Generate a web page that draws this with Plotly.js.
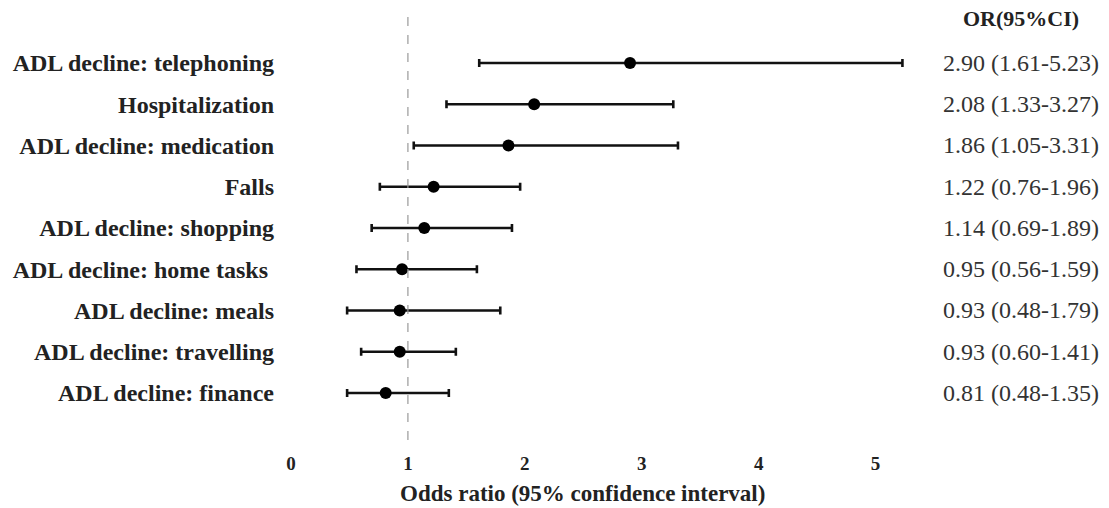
<!DOCTYPE html>
<html><head><meta charset="utf-8">
<script src="https://cdn.plot.ly/plotly-3.0.1.min.js"></script>
<style>body{margin:0;background:#fff}#c{width:1109px;height:508px}</style>
</head><body><div id="c"></div>
<script>
const categories = ["ADL decline: telephoning","Hospitalization","ADL decline: medication","Falls","ADL decline: shopping","ADL decline: home tasks ","ADL decline: meals","ADL decline: travelling","ADL decline: finance"];
const oddsRatio = [2.90,2.08,1.86,1.22,1.14,0.95,0.93,0.93,0.81];
const ciLow = [1.61,1.33,1.05,0.76,0.69,0.56,0.48,0.60,0.48];
const ciHigh = [5.23,3.27,3.31,1.96,1.89,1.59,1.79,1.41,1.35];
const tickVals = [0,1,2,3,4,5];
const headerText = "OR(95%CI)";
const xTitle = "Odds ratio (95% confidence interval)";

const labels = oddsRatio.map((v,i)=> v.toFixed(2)+" ("+ciLow[i].toFixed(2)+"-"+ciHigh[i].toFixed(2)+")");
const yIdx = categories.map((c,i)=>i);

const trace = {
  type:'scatter', mode:'markers',
  x: oddsRatio, y: yIdx,
  marker:{color:'#000', size:12},
  error_x:{type:'data', symmetric:false,
    array: ciHigh.map((h,i)=>h-oddsRatio[i]),
    arrayminus: ciLow.map((l,i)=>oddsRatio[i]-l),
    color:'#111', thickness:2.6, width:4},
  hoverinfo:'skip'
};

const serif = 'Liberation Serif, Times New Roman, serif';
const annotations = labels.map((t,i)=>({
  x:1.135, xref:'paper', y:i, yref:'y', text:t, showarrow:false,
  xanchor:'center', font:{family:serif, size:24, color:'#333'}
}));
annotations.push({x:1.135, xref:'paper', y:1, yref:'paper', yshift:-6, yanchor:'middle', text:'<b>'+headerText+'</b>',
  showarrow:false, xanchor:'center', font:{family:serif, size:22, color:'#222'}});
annotations.push({x:0.454, xref:'paper', y:0, yref:'paper', yshift:-53, yanchor:'middle', text:'<b>'+xTitle+'</b>',
  showarrow:false, xanchor:'center', font:{family:serif, size:23, color:'#222'}});

const layout = {
  width:1109, height:508,
  margin:{l:291, r:175, t:12, b:68},
  paper_bgcolor:'#fff', plot_bgcolor:'#fff',
  showlegend:false,
  xaxis:{range:[0,5.5], tickvals:tickVals, ticktext:tickVals.map(v=>'<b>'+v+'</b>'),
    showgrid:false, zeroline:false, showline:false, ticks:'', ticklabelstandoff:10,
    tickfont:{family:serif, size:19, color:'#222'}},
  yaxis:{range:[9.14,-1.236], tickvals:yIdx, ticktext:categories.map(c=>'<b>'+c+'</b>'),
    showgrid:false, zeroline:false, showline:false, ticks:'', ticklabelstandoff:16,
    tickfont:{family:serif, size:24, color:'#222'}},
  shapes:[{type:'line', xref:'x', yref:'paper', x0:1, x1:1, y0:0, y1:1,
    line:{color:'#999', width:1.2, dash:'dash'}}],
  annotations: annotations
};
Plotly.newPlot('c',[trace],layout,{displayModeBar:false,staticPlot:true});
</script></body></html>
